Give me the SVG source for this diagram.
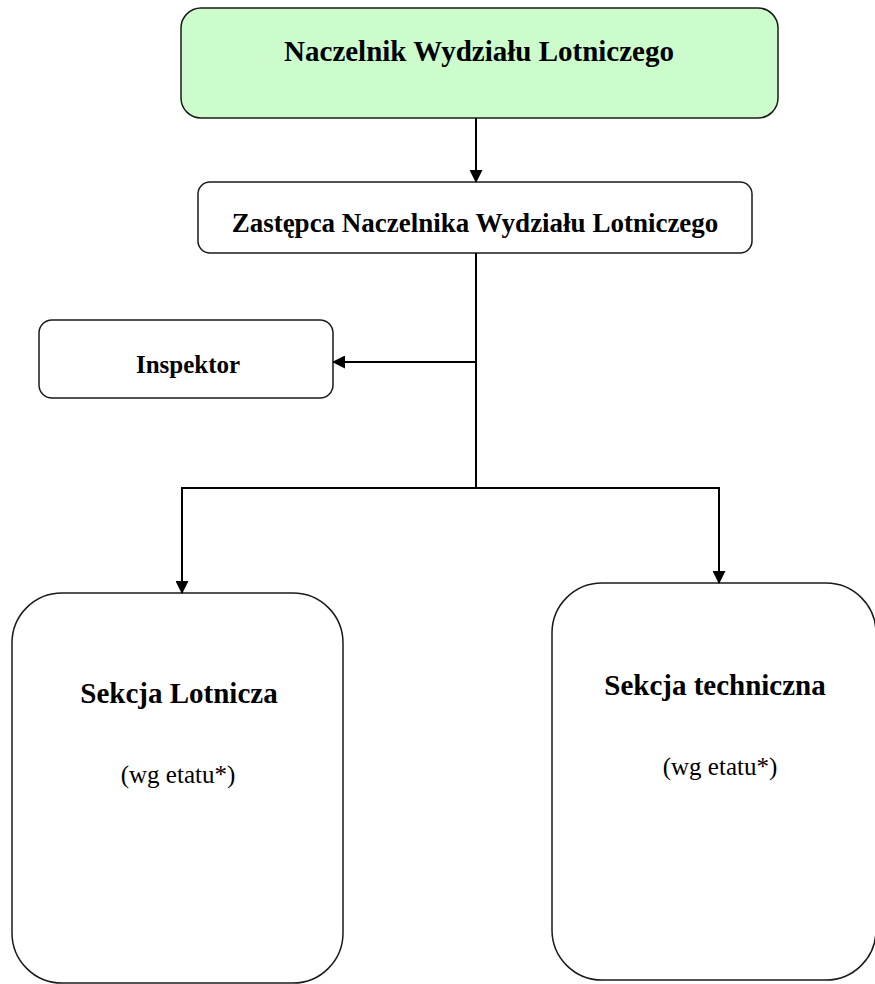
<svg xmlns="http://www.w3.org/2000/svg" width="875" height="984" viewBox="0 0 875 984">
<style>
.box{fill:#fff;stroke:#1a1a1a;stroke-width:1.5}
.green{fill:#ccfccc}
.t{font-family:"Liberation Serif","Times New Roman",serif;font-weight:bold;fill:#000;text-anchor:middle}
.r{font-family:"Liberation Serif","Times New Roman",serif;fill:#000;text-anchor:middle}
.c{fill:none;stroke:#000;stroke-width:2}
</style>
<defs>
<marker id="ah" markerWidth="13" markerHeight="13" refX="12" refY="6.5" orient="auto" markerUnits="userSpaceOnUse">
<path d="M0,0 L13,6.5 L0,13 Z" fill="#000"/>
</marker>
</defs>
<rect width="875" height="984" fill="#fff"/>
<g id="naczelnik">
<rect class="box green" x="181" y="8" width="597" height="110" rx="20"/>
<text class="t" x="479" y="61" font-size="29">Naczelnik Wydziału Lotniczego</text>
</g>
<g id="zastepca">
<rect class="box" x="198" y="182" width="554" height="71" rx="12"/>
<text class="t" x="475" y="232" font-size="27">Zastępca Naczelnika Wydziału Lotniczego</text>
</g>
<g id="inspektor">
<rect class="box" x="39" y="320" width="294" height="78" rx="13"/>
<text class="t" x="188" y="373" font-size="25">Inspektor</text>
</g>
<g id="sekcja-lotnicza">
<rect class="box" x="12" y="593" width="331" height="390" rx="50"/>
<text class="t" x="179" y="703" font-size="29">Sekcja Lotnicza</text>
<text class="r" x="178" y="783" font-size="25">(wg etatu*)</text>
</g>
<g id="sekcja-techniczna">
<rect class="box" x="552" y="583" width="324" height="397" rx="50"/>
<text class="t" x="715" y="695" font-size="29">Sekcja techniczna</text>
<text class="r" x="720" y="775" font-size="25">(wg etatu*)</text>
</g>
<g id="connectors">
<line class="c" x1="476" y1="118" x2="476" y2="182" marker-end="url(#ah)"/>
<line class="c" x1="476" y1="253" x2="476" y2="488"/>
<line class="c" x1="476" y1="362" x2="333" y2="362" marker-end="url(#ah)"/>
<polyline class="c" points="476,488 182,488 182,593" marker-end="url(#ah)"/>
<polyline class="c" points="476,488 719,488 719,583" marker-end="url(#ah)"/>
</g>
</svg>
